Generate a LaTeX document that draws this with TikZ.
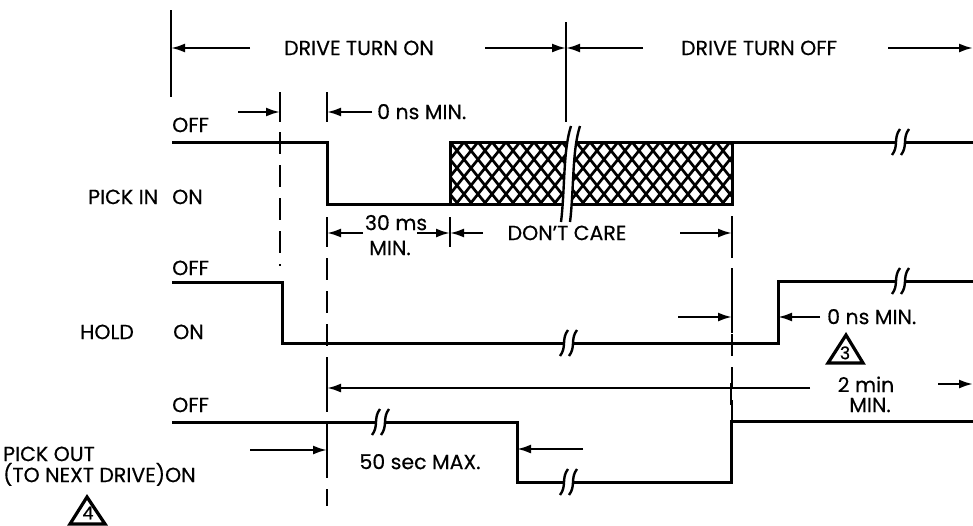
\documentclass[tikz,border=0pt]{standalone}
\usepackage{fontspec}
\setmainfont{Poppins}[FakeBold=0.5]
\usetikzlibrary{arrows.meta}
\begin{document}
\begin{tikzpicture}[x=1pt,y=-1pt,
  lbl/.style={inner sep=0pt, text height=14.2pt, text depth=0pt, font=\fontsize{20.5}{24}\selectfont},
  trilbl/.style={inner sep=0pt, text height=12.5pt, text depth=0pt, font=\fontsize{17.5}{20}\selectfont},
  sig/.style={line width=3pt, line join=miter},
  dim/.style={line width=2.2pt},
  arr/.style={dim, -{Latex[length=14pt,width=9pt]}},
  dsh/.style={line width=2.2pt, dash pattern=on 22pt off 11pt},
  tri/.style={line width=3.2pt, line join=miter},
  brk/.pic={
    \draw[white, line width=7pt] (4.5,-13) .. controls (-2.5,-4) and (3.5,4) .. (-3.5,13);
    \draw[line width=2.4pt] (0,-13) .. controls (-7,-4) and (-1,4) .. (-8,13);
    \draw[line width=2.4pt] (9,-13) .. controls (2,-4) and (8,4) .. (1,13);
  }
]
\useasboundingbox (0,0) rectangle (973,525);

% ---------- header ----------
\coordinate (hl) at (171,48);
\coordinate (hm) at (566,48);
\coordinate (hr) at (973,48);
\coordinate (h1) at (250,48);
\coordinate (h2) at (485,48);
\coordinate (h3) at (643,48);
\coordinate (h4) at (888,48);
\draw[dim] (171,10) -- (171,97);
\draw[dim] (566,22) -- (566,122);
\node[lbl] (dton) at (359,48) {DRIVE TURN ON};
\node[lbl] (dtoff) at (759,48) {DRIVE TURN OFF};
\draw[arr] (h1) -- (hl);
\draw[arr] (h2) -- (hm);
\draw[arr] (h3) -- (hm);
\draw[arr] (h4) -- (hr);

% ---------- first gap ticks ----------
\coordinate (k1) at (280,112);
\coordinate (k2) at (327,112);
\draw[dim] (280,92) -- (280,122);
\draw[dim] (327,92) -- (327,122);
\draw[dsh] (280,132) -- (280,266);
\draw[arr] (238,112) -- (k1);
\draw[arr] (372,112) -- (k2);
\node[lbl, anchor=west] (ons1) at (377,112) {0 ns MIN.};

% ---------- PICK IN ----------
\node[lbl, anchor=west] (pioff) at (172,125) {OFF};
\node[lbl, anchor=west] (pion) at (172,197) {ON};
\node[lbl, anchor=west] (pi) at (88,197) {PICK IN};
\begin{scope}
  \clip (450,142) rectangle (732,204);
  \foreach \x in {380,394,...,800} {
    \draw[line width=2.7pt] (\x,142) -- ++(50,62);
    \draw[line width=2.7pt] (\x,142) -- ++(-50,62);
  }
\end{scope}
\draw[sig] (172,142) -- (327,142) -- (327,204) -- (450,204);
\draw[sig] (450,142) rectangle (732,204);
\draw[sig] (732,142) -- (973,142);
\pic at (900,142) {brk};
% big break in hatched area
\fill[white] (571,126) .. controls (563,150) and (565,190) .. (561,222) -- (570,222) .. controls (574,190) and (572,150) .. (580,126) -- cycle;
\draw[line width=2.4pt] (571,126) .. controls (563,150) and (565,190) .. (561,222);
\draw[line width=2.4pt] (580,126) .. controls (572,150) and (574,190) .. (570,222);

% ---------- 30 ms / don't care ----------
\coordinate (m1) at (327,233);
\coordinate (m2) at (450,233);
\coordinate (m3) at (732,233);
\draw[dim] (327,217) -- (327,247);
\draw[dim] (450,217) -- (450,247);
\draw[dim] (732,216) -- (732,258);
\draw[arr] (363,233) -- (m1);
\draw[arr] (417,233) -- (m2);
\draw[arr] (483,233) -- (m2);
\draw[arr] (680,233) -- (m3);
\node[lbl] (t30) at (396,223) {30 ms};
\node[lbl] (t30m) at (390,248) {MIN.};
\node[lbl] (dc) at (567,233) {DON'T CARE};

% dashed verticals
\draw[dsh] (327,258) -- (327,506);
\draw[dsh] (732,268) -- (732,421);

% ---------- HOLD ----------
\node[lbl, anchor=west] (hoff) at (172,268) {OFF};
\node[lbl, anchor=west] (hon) at (173,332) {ON};
\node[lbl, anchor=west] (hold) at (80,332) {HOLD};
\draw[sig] (172,282) -- (282,282) -- (282,343) -- (778,343) -- (778,281) -- (973,281);
\pic at (568,343) {brk};
\pic at (900,281) {brk};
\coordinate (q1) at (732,317);
\coordinate (q2) at (778,317);
\draw[dim] (732,290) -- (732,333);
\draw[arr] (678,317) -- (q1);
\draw[arr] (820,317) -- (q2);
\node[lbl, anchor=west] (ons2) at (827,317) {0 ns MIN.};
\node[trilbl] (n3) at (845,353) {3};
\draw[tri] (846,335) -- (863,363) -- (828,363) -- cycle;

% ---------- 2 min ----------
\coordinate (w1) at (327,388);
\coordinate (w2) at (973,384);
\draw[dim] (327,375) -- (327,401);
\draw[dim] (731,383) -- (731,405);
\draw[arr] (810,388) -- (w1);
\draw[arr] (938,384) -- (w2);
\node[lbl] (tm) at (866,385) {2 min};
\node[lbl] (tmm) at (870,405) {MIN.};

% ---------- PICK OUT ----------
\node[lbl, anchor=west] (pooff) at (172,405) {OFF};
\node[lbl, anchor=west] (po1) at (3,454) {PICK OUT};
\node[lbl, anchor=west] (po2) at (3,475) {(TO NEXT DRIVE)ON};
\draw[sig] (172,422) -- (517,422) -- (517,482) -- (731,482) -- (731,421) -- (973,421);
\pic at (380,422) {brk};
\pic at (568,482) {brk};
\coordinate (p1) at (517,449);
\coordinate (p2) at (327,450);
\draw[dim] (327,438) -- (327,462);
\draw[arr] (583,449) -- (p1);
\draw[arr] (250,450) -- (p2);
\node[lbl] (fifty) at (420,462) {50 sec MAX.};
\node[trilbl] (n4) at (88,513) {4};
\draw[tri] (87,497) -- (105,524) -- (70,524) -- cycle;
\end{tikzpicture}
\end{document}
